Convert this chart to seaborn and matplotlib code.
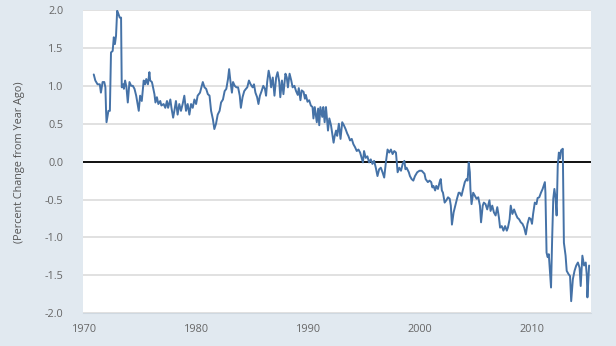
import matplotlib
matplotlib.use("Agg")
import matplotlib.pyplot as plt
import seaborn as sns
import pandas as pd

# Decimal year and percent change readings taken from the reference chart
years = [
    1970.86, 1971.0, 1971.2, 1971.4, 1971.5, 1971.65, 1971.8, 1971.9, 1971.96, 1972.0,
    1972.17, 1972.3, 1972.4, 1972.55, 1972.65, 1972.75, 1972.85, 1972.95, 1973.06, 1973.18,
    1973.3, 1973.36, 1973.5, 1973.55, 1973.66, 1973.78, 1973.9, 1974.05, 1974.2, 1974.35,
    1974.5, 1974.65, 1974.78, 1974.88, 1975.0, 1975.15, 1975.32, 1975.45, 1975.55, 1975.7,
    1975.83, 1975.9, 1976.05, 1976.1, 1976.28, 1976.37, 1976.5, 1976.63, 1976.8, 1976.9,
    1977.1, 1977.25, 1977.4, 1977.5, 1977.7, 1977.8, 1977.95, 1978.06, 1978.2, 1978.35,
    1978.5, 1978.65, 1978.8, 1978.95, 1979.1, 1979.25, 1979.4, 1979.55, 1979.7, 1979.85,
    1980.0, 1980.14, 1980.35, 1980.6, 1980.75, 1980.9, 1981.05, 1981.2, 1981.34, 1981.5,
    1981.63, 1981.78, 1981.93, 1982.1, 1982.23, 1982.4, 1982.55, 1982.7, 1982.85, 1982.95,
    1983.06, 1983.2, 1983.3, 1983.45, 1983.6, 1983.75, 1983.9, 1984.0, 1984.15, 1984.3,
    1984.45, 1984.57, 1984.72, 1984.87, 1985.05, 1985.17, 1985.3, 1985.45, 1985.57, 1985.7,
    1985.85, 1986.0, 1986.15, 1986.25, 1986.35, 1986.48, 1986.6, 1986.7, 1986.85, 1987.0,
    1987.15, 1987.28, 1987.43, 1987.52, 1987.67, 1987.8, 1987.98, 1988.1, 1988.2, 1988.35,
    1988.5, 1988.62, 1988.78, 1988.93, 1989.08, 1989.17, 1989.32, 1989.43, 1989.6, 1989.72,
    1989.8, 1989.95, 1990.1, 1990.25, 1990.4, 1990.48, 1990.6, 1990.78, 1990.9, 1991.0,
    1991.1, 1991.27, 1991.36, 1991.48, 1991.6, 1991.78, 1991.9, 1992.05, 1992.28, 1992.38,
    1992.5, 1992.6, 1992.75, 1992.9, 1993.05, 1993.2, 1993.35, 1993.5, 1993.6, 1993.75,
    1993.9, 1994.05, 1994.2, 1994.35, 1994.5, 1994.65, 1994.9, 1995.0, 1995.15, 1995.3,
    1995.45, 1995.6, 1995.75, 1995.9, 1996.05, 1996.2, 1996.35, 1996.5, 1996.65, 1996.8,
    1996.95, 1997.1, 1997.25, 1997.4, 1997.55, 1997.7, 1997.85, 1998.0, 1998.15, 1998.3,
    1998.45, 1998.6, 1998.7, 1998.8, 1999.0, 1999.1, 1999.25, 1999.4, 1999.55, 1999.75,
    1999.95, 2000.15, 2000.4, 2000.5, 2000.7, 2000.85, 2001.0, 2001.1, 2001.2, 2001.35,
    2001.45, 2001.6, 2001.75, 2001.85, 2001.95, 2002.05, 2002.2, 2002.35, 2002.5, 2002.65,
    2002.75, 2002.85, 2003.0, 2003.15, 2003.3, 2003.45, 2003.55, 2003.7, 2003.85, 2004.0,
    2004.15, 2004.25, 2004.35, 2004.45, 2004.5, 2004.6, 2004.75, 2004.9, 2005.05, 2005.2,
    2005.35, 2005.45, 2005.6, 2005.7, 2005.85, 2006.0, 2006.2, 2006.3, 2006.45, 2006.6,
    2006.75, 2006.9, 2007.05, 2007.15, 2007.3, 2007.45, 2007.6, 2007.75, 2007.85, 2008.0,
    2008.1, 2008.25, 2008.4, 2008.55, 2008.7, 2008.85, 2009.0, 2009.15, 2009.3, 2009.45,
    2009.6, 2009.75, 2009.9, 2010.0, 2010.1, 2010.25, 2010.4, 2010.5, 2010.65, 2010.8,
    2010.95, 2011.15, 2011.2, 2011.3, 2011.4, 2011.5, 2011.7, 2011.8, 2011.9, 2012.0,
    2012.1, 2012.2, 2012.3, 2012.4, 2012.5, 2012.6, 2012.75, 2012.85, 2013.0, 2013.1,
    2013.25, 2013.4, 2013.5, 2013.65, 2013.8, 2013.95, 2014.1, 2014.25, 2014.35, 2014.5,
    2014.65, 2014.8, 2014.9, 2014.95, 2015.1,
]
values = [
    1.15, 1.07, 1.02, 1.02, 0.91, 1.05, 1.05, 0.98, 0.67, 0.52,
    0.67, 0.67, 1.44, 1.46, 1.64, 1.55, 1.66, 1.99, 1.95, 1.90,
    1.90, 0.98, 1.02, 0.96, 1.07, 0.98, 0.78, 1.05, 1.00, 1.00,
    0.96, 0.87, 0.76, 0.67, 0.87, 0.80, 1.07, 1.02, 1.09, 1.02,
    1.18, 1.07, 1.05, 1.02, 0.89, 0.78, 0.85, 0.76, 0.80, 0.74,
    0.76, 0.71, 0.80, 0.71, 0.82, 0.71, 0.58, 0.67, 0.80, 0.62,
    0.76, 0.67, 0.76, 0.87, 0.67, 0.76, 0.62, 0.76, 0.71, 0.82,
    0.76, 0.87, 0.91, 1.05, 0.98, 0.96, 0.89, 0.87, 0.67, 0.56,
    0.43, 0.50, 0.62, 0.67, 0.78, 0.82, 0.93, 0.96, 1.09, 1.22,
    1.07, 0.91, 1.05, 1.00, 0.98, 0.98, 0.87, 0.71, 0.85, 0.93,
    0.96, 0.98, 1.07, 1.02, 0.98, 1.02, 0.91, 0.85, 0.76, 0.87,
    0.93, 1.00, 0.96, 0.87, 1.05, 1.20, 1.11, 0.98, 1.11, 0.87,
    1.11, 1.18, 1.05, 0.85, 1.07, 0.89, 1.16, 1.11, 0.98, 1.16,
    1.07, 0.98, 1.00, 0.93, 0.88, 0.97, 0.81, 0.94, 0.92, 0.83,
    0.88, 0.79, 0.81, 0.74, 0.72, 0.57, 0.72, 0.52, 0.70, 0.48,
    0.72, 0.59, 0.72, 0.52, 0.72, 0.41, 0.57, 0.48, 0.25, 0.34,
    0.41, 0.34, 0.50, 0.30, 0.52, 0.48, 0.43, 0.37, 0.34, 0.28,
    0.30, 0.23, 0.19, 0.14, 0.16, 0.12, -0.01, 0.14, 0.05, 0.07,
    -0.01, 0.03, -0.03, 0.01, -0.08, -0.19, -0.10, -0.08, -0.14, -0.21,
    -0.01, 0.16, 0.12, 0.16, 0.10, 0.14, 0.12, -0.14, -0.08, -0.12,
    -0.03, 0.01, -0.10, -0.08, -0.14, -0.19, -0.23, -0.25, -0.19, -0.14,
    -0.12, -0.12, -0.16, -0.23, -0.27, -0.25, -0.27, -0.34, -0.32, -0.38,
    -0.32, -0.36, -0.27, -0.23, -0.38, -0.41, -0.54, -0.51, -0.47, -0.49,
    -0.58, -0.83, -0.67, -0.58, -0.49, -0.41, -0.41, -0.45, -0.36, -0.27,
    -0.23, -0.25, -0.01, -0.14, -0.36, -0.56, -0.41, -0.45, -0.49, -0.47,
    -0.58, -0.80, -0.58, -0.54, -0.56, -0.63, -0.51, -0.65, -0.58, -0.67,
    -0.71, -0.60, -0.74, -0.87, -0.85, -0.91, -0.85, -0.91, -0.87, -0.76,
    -0.58, -0.69, -0.63, -0.69, -0.74, -0.76, -0.80, -0.82, -0.87, -0.96,
    -0.82, -0.74, -0.76, -0.82, -0.69, -0.54, -0.56, -0.48, -0.47, -0.41,
    -0.36, -0.27, -0.41, -1.20, -1.26, -1.22, -1.66, -1.02, -0.49, -0.36,
    -0.47, -0.71, -0.05, 0.12, 0.04, 0.15, 0.17, -1.07, -1.24, -1.44,
    -1.48, -1.51, -1.84, -1.55, -1.44, -1.37, -1.33, -1.40, -1.64, -1.24,
    -1.37, -1.33, -1.51, -1.79, -1.37,
]
y_ticks = [-2.0, -1.5, -1.0, -0.5, 0.0, 0.5, 1.0, 1.5, 2.0]
x_ticks = [1970, 1980, 1990, 2000, 2010]
y_label = "(Percent Change from Year Ago)"

df = pd.DataFrame({"year": years, "value": values})

BG = "#e1e9f0"
sns.set_style("white", {"axes.facecolor": "white", "figure.facecolor": BG})
plt.rcParams["font.family"] = ["Open Sans", "DejaVu Sans"]

fig = plt.figure(figsize=(6.16, 3.46), dpi=100, facecolor=BG)
ax = fig.add_axes([83 / 616, 1 - 313.3 / 346, (591 - 83) / 616, (313.3 - 10) / 346])

for yv in y_ticks:
    ax.axhline(yv, color="#dcdcdc", lw=1.2, zorder=0)
ax.axhline(0, color="black", lw=1.3, zorder=1)

sns.lineplot(data=df, x="year", y="value", ax=ax, color="#4572a7", lw=1.4,
             zorder=3, estimator=None, sort=False)

ax.set_xlim(1969.9, 2015.27)
ax.set_ylim(-2.0, 2.0)
ax.set_yticks(y_ticks)
ax.set_yticklabels([f"{v:.1f}" for v in y_ticks])
ax.set_xticks(x_ticks)
ax.set_xticklabels([str(v) for v in x_ticks])

for s in ["top", "right", "left"]:
    ax.spines[s].set_visible(False)
ax.spines["bottom"].set_color("#cfd8e0")
ax.spines["bottom"].set_linewidth(0.8)

ax.tick_params(axis="y", length=0, pad=14, labelsize=7.8, labelcolor="#666666")
ax.tick_params(axis="x", length=5, width=0.8, color="#cfd8e0", pad=3,
               labelsize=7.8, labelcolor="#666666")

ax.set_xlabel("")
ax.set_ylabel("")
fig.text(20 / 616, 1 - 161.7 / 346, y_label, rotation=90, ha="center", va="center",
         fontsize=7.8, color="#555555")

fig.savefig("out.png", dpi=100, facecolor=BG)
